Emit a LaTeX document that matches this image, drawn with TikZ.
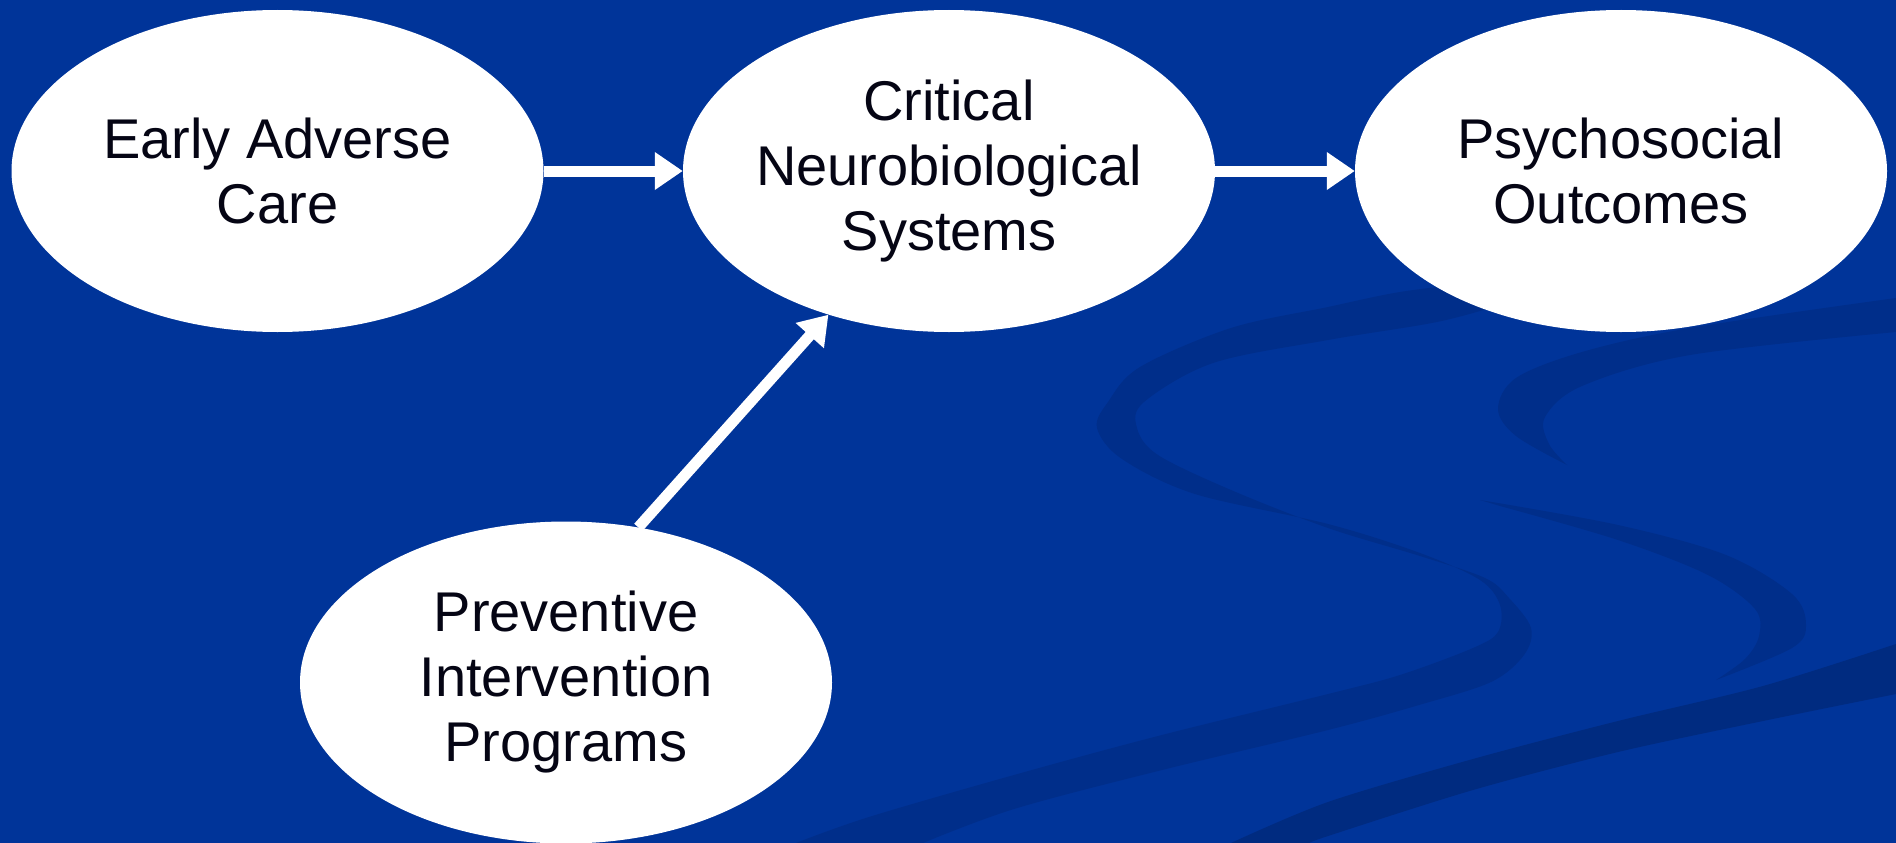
\documentclass[tikz,border=0pt]{standalone}
\usepackage{fontspec}
\setmainfont{Liberation Sans}
\usetikzlibrary{shapes.geometric,arrows.meta}
\definecolor{bgblue}{RGB}{0,52,153}
\definecolor{swoosh}{RGB}{0,46,138}
\definecolor{swooshdark}{RGB}{0,43,128}
\definecolor{inktext}{RGB}{5,5,20}
\tikzset{
  bubble/.style={ellipse, fill=white, draw=none, minimum width=532pt, minimum height=322pt,
    inner xsep=-100pt, inner ysep=-60pt, align=center, text=inktext,
    font=\fontsize{56}{65}\selectfont},
  flow/.style={draw=white, line width=11pt, -{Triangle[width=36pt,length=28pt]}},
  band/.style={fill=swoosh, draw=none},
}
\begin{document}
\begin{tikzpicture}[x=1pt,y=-1pt]
\fill[bgblue] (0,0) rectangle (1896,843);
\useasboundingbox (0,0) rectangle (1896,843);
% background swooshes
\fill[band] plot[smooth, tension=0.55] coordinates {(1480,282) (1400,292) (1328,307) (1231,328) (1140,367) (1108,402) (1097,428) (1122,459) (1195,494) (1328,524) (1420,553) (1480,580) (1500,605) (1498,632) (1473,648) (1400,675) (1328,694) (1158,736) (1014,775) (869,817) (796,843)}
  -- plot[smooth, tension=0.55] coordinates {(923,843) (1014,809) (1158,771) (1328,730) (1419,705) (1491,682) (1524,655) (1531,628) (1509,598) (1485,578) (1420,556) (1328,528) (1231,490) (1158,455) (1137,428) (1144,402) (1213,363) (1328,340) (1437,322) (1500,305)} -- cycle;
\fill[band] plot[smooth, tension=0.55] coordinates {(1896,298) (1690,328) (1582,352) (1516,378) (1498,409) (1516,436) (1567,465)}
  -- plot[smooth, tension=0.55] coordinates {(1567,465) (1549,444) (1545,417) (1582,386) (1690,355) (1896,332)} -- cycle;
\fill[band] plot[smooth, tension=0.55] coordinates {(1480,500) (1618,525) (1726,555) (1792,594) (1806,625) (1792,648) (1716,680)}
  -- plot[smooth, tension=0.55] coordinates {(1716,680) (1745,659) (1759,636) (1755,609) (1708,575) (1618,540) (1500,506)} -- cycle;
\fill[swooshdark] plot[smooth, tension=0.5] coordinates {(1896,644) (1763,686) (1618,721) (1473,759) (1328,802) (1231,843)}
  -- plot[smooth, tension=0.5] coordinates {(1310,843) (1328,836) (1473,790) (1618,752) (1763,721) (1896,694)} -- cycle;
% nodes
\node[bubble] (early) at (277.5,171) {Early Adverse\\Care};
\node[bubble] (crit) at (949,171) {Critical\\Neurobiological\\Systems};
\node[bubble] (psych) at (1621,171) {Psychosocial\\Outcomes};
\node[bubble] (prev) at (566,682.5) {Preventive\\Intervention\\Programs};
% connectors
\draw[flow] (early.east) -- (crit.west);
\draw[flow] (crit.east) -- (psych.west);
\draw[flow] (prev.65.9) -- (crit.230.4);
\end{tikzpicture}
\end{document}
